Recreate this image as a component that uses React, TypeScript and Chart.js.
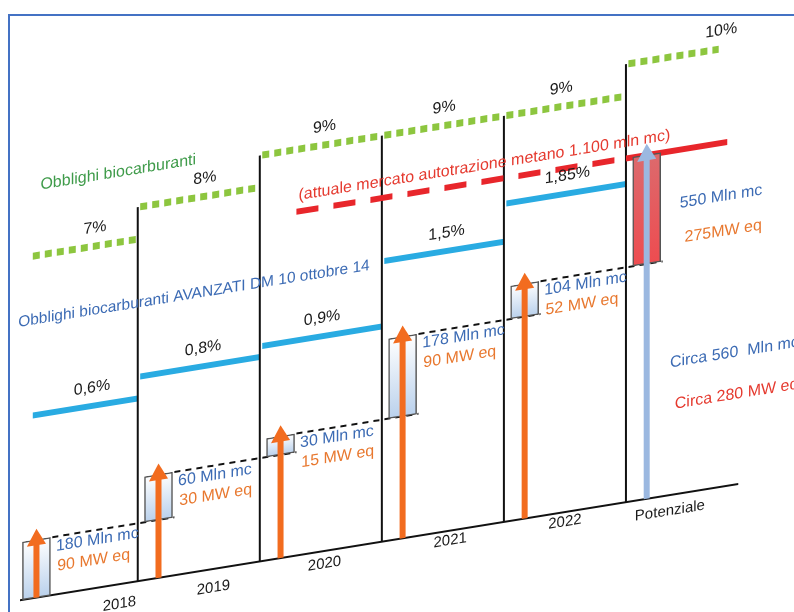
import React, { useEffect, useRef } from "react";
import { Chart, registerables } from "chart.js";

Chart.register(...registerables);

// Columns along the sloped baseline
const PERIODS = ["2018", "2019", "2020", "2021", "2022", "Potenziale"];

// Biofuel obligation (%), one step per column
const BIOFUEL_OBLIGATION = [7, 8, 9, 9, 9, 10];
// Advanced biofuel obligation, DM 10 ottobre 2014 (%)
const ADVANCED_OBLIGATION = [0.6, 0.8, 0.9, 1.5, 1.85];
// Yearly biomethane increments (Mln mc) and equivalent capacity (MW)
const INCREMENT_MLN_MC = [180, 60, 30, 178, 104];
const INCREMENT_MW = [90, 30, 15, 90, 52];
// Remaining potential
const POTENTIAL_MLN_MC = 550;
const POTENTIAL_MW = 275;
const POTENTIAL_TOTAL_MLN_MC = 560;
const POTENTIAL_TOTAL_MW = 280;
// Current methane-for-transport market (Mln mc)
const MARKET_MLN_MC = 1100;

// Label placement along the column axis (column units) and below the baseline (px)
const GREEN_LABEL_X = [0.65, 1.55, 2.53, 3.51, 4.47, 5.78];
const BLUE_LABEL_X = [0.625, 1.535, 2.51, 3.53, 4.52];
const PERIOD_LABEL_X = [0.85, 1.62, 2.53, 3.56, 4.5, 5.36];
const PERIOD_LABEL_DROP = [20, 19, 13, 10, 10, 16];

// Scale ranges (hidden axes)
const X_MIN = 0;
const X_MAX = 6;
const G_MIN = -3.704;
const G_MAX = 11.848;
const B_MIN = -1.086;
const B_MAX = 3.501;
const C_MIN = 124.7;
const C_MAX = 2906;

// Vertical shear giving the rising perspective
const SKEW = -0.162;
const BOX_OFFSET = 0.17;

const INK = "#1a1a1a";
const GREEN_DOTS = "#8dc63f";
const GREEN_TEXT = "#3f9b4a";
const CYAN = "#29abe2";
const BLUE_TEXT = "#3c6bb4";
const ORANGE = "#f26c1f";
const ORANGE_TEXT = "#e8782f";
const RED = "#e8262b";
const RED_TEXT = "#e53a2f";
const ARROW_BLUE = "#9bb8e0";
const FONT = '"Liberation Sans", Arial, Helvetica, sans-serif';

const cumulative: number[] = [];
INCREMENT_MLN_MC.reduce((acc, v) => {
  const next = acc + v;
  cumulative.push(next);
  return next;
}, 0);
const potentialTop = cumulative[cumulative.length - 1] + POTENTIAL_MLN_MC;

const fmtDecimal = (v: number) => String(v).replace(".", ",");
const fmtThousands = (v: number) => String(v).replace(/\B(?=(\d{3})+(?!\d))/g, ".");

type Pt = { x: number; y: number | null };

// One horizontal step per column, broken between columns
function steps(values: number[], lastEnd: number): Pt[] {
  const pts: Pt[] = [];
  values.forEach((v, i) => {
    const start = i === 0 ? 0.14 : i + 0.02;
    const end = i === values.length - 1 && lastEnd > 0 ? lastEnd : i + 1;
    pts.push({ x: start, y: v }, { x: end, y: v }, { x: end, y: null });
  });
  return pts;
}

function lineSet(extra: any) {
  return {
    type: "line",
    xAxisID: "x",
    pointRadius: 0,
    tension: 0,
    spanGaps: false,
    clip: false,
    fill: false,
    borderCapStyle: "butt",
    ...extra,
  };
}

// Arrows from the baseline to each cumulative level
const orangeArrows: Pt[] = [];
const orangeHeads: number[] = [];
cumulative.forEach((v, i) => {
  const cx = i + BOX_OFFSET;
  orangeArrows.push({ x: cx, y: C_MIN }, { x: cx, y: v }, { x: cx, y: null });
  orangeHeads.push(0, 11, 0);
});
const potX = PERIODS.length - 1 + BOX_OFFSET;

// Dashed cumulative levels, each running to the next box
const levelDashes: Pt[] = [];
cumulative.forEach((v, i) => {
  levelDashes.push({ x: i + 0.3, y: v }, { x: i + 1.3, y: v }, { x: i + 1.3, y: null });
});

// Column separators, rising to the obligation step of their column
const separators: Pt[] = [];
BIOFUEL_OBLIGATION.forEach((v, i) => {
  if (i === 0) return;
  separators.push({ x: i, y: G_MIN }, { x: i, y: v }, { x: i, y: null });
});

const boxes = [
  ...cumulative.map((v, i) => ({ x: i + BOX_OFFSET, y: [i === 0 ? C_MIN : cumulative[i - 1], v] })),
  { x: potX, y: [cumulative[cumulative.length - 1], potentialTop] },
];

const skewPlugin = {
  id: "skew",
  beforeDraw(chart: any) {
    const c = chart.ctx;
    c.save();
    c.transform(1, SKEW, 0, 1, 0, -SKEW * chart.chartArea.left);
  },
  afterDraw(chart: any) {
    chart.ctx.restore();
  },
};

const labelsPlugin = {
  id: "labels",
  afterDatasetsDraw(chart: any) {
    const { ctx, chartArea, scales } = chart;
    const X = (v: number) => scales.x.getPixelForValue(v);
    const H = (h: number) => chartArea.bottom - h;
    const put = (s: string, x: number, y: number, color: string, size: number, align = "center") => {
      ctx.save();
      ctx.font = `${size}px ${FONT}`;
      ctx.fillStyle = color;
      ctx.textAlign = align;
      ctx.textBaseline = "middle";
      ctx.fillText(s, x, y);
      ctx.restore();
    };

    BIOFUEL_OBLIGATION.forEach((v, i) =>
      put(`${v}%`, X(GREEN_LABEL_X[i]), scales.yG.getPixelForValue(v) - 18, INK, 16)
    );
    put("Obblighi biocarburanti", X(0.84), H(412), GREEN_TEXT, 16);

    ADVANCED_OBLIGATION.forEach((v, i) =>
      put(`${fmtDecimal(v)}%`, X(BLUE_LABEL_X[i]), scales.yB.getPixelForValue(v) - 18, INK, 16)
    );
    put("Obblighi biocarburanti AVANZATI DM 10 ottobre 14", X(1.46), H(278), BLUE_TEXT, 15.5);

    put(
      `(attuale mercato autotrazione metano ${fmtThousands(MARKET_MLN_MC)} mln mc)`,
      X(3.84),
      scales.yC.getPixelForValue(MARKET_MLN_MC) - 16,
      RED_TEXT,
      16
    );

    cumulative.forEach((v, i) => {
      const top = scales.yC.getPixelForValue(v);
      put(`${INCREMENT_MLN_MC[i]} Mln mc`, X(i + 0.33), top + 10, BLUE_TEXT, 16, "left");
      put(`${INCREMENT_MW[i]} MW eq`, X(i + 0.34), top + 30, ORANGE_TEXT, 16, "left");
    });

    const potTop = scales.yC.getPixelForValue(potentialTop);
    put(`${POTENTIAL_MLN_MC} Mln mc`, X(5.44), potTop + 54, BLUE_TEXT, 16, "left");
    put(`${POTENTIAL_MW}MW eq`, X(5.48), potTop + 89, ORANGE_TEXT, 16, "left");
    put(`Circa ${POTENTIAL_TOTAL_MLN_MC}  Mln mc`, X(5.36), H(132), BLUE_TEXT, 16, "left");
    put(`Circa ${POTENTIAL_TOTAL_MW} MW eq`, X(5.4), H(90), RED_TEXT, 16, "left");

    PERIODS.forEach((p, i) => put(p, X(PERIOD_LABEL_X[i]), H(-PERIOD_LABEL_DROP[i]), INK, 15));
  },
};

function boxFill(ctx: any) {
  const chart = ctx.chart;
  const sc = chart.scales && chart.scales.yC;
  const isPotential = ctx.dataIndex === boxes.length - 1;
  const fallback = isPotential ? "#e65357" : "#dde8f5";
  if (!sc || !ctx.raw || !Array.isArray(ctx.raw.y)) return fallback;
  const top = sc.getPixelForValue(ctx.raw.y[1]);
  const bot = sc.getPixelForValue(ctx.raw.y[0]);
  if (!isFinite(top) || !isFinite(bot) || top === bot) return fallback;
  const g = chart.ctx.createLinearGradient(0, top, 0, bot);
  if (isPotential) {
    g.addColorStop(0, "#dc6a6d");
    g.addColorStop(1, "#ee4c50");
  } else {
    g.addColorStop(0, "#ffffff");
    g.addColorStop(1, "#bad1ec");
  }
  return g;
}

export default function App() {
  const ref = useRef<HTMLCanvasElement>(null);

  useEffect(() => {
    if (!ref.current) return;
    const chart = new Chart(ref.current, {
      type: "line",
      data: {
        datasets: [
          lineSet({
            label: "Potenziale",
            yAxisID: "yC",
            data: [{ x: potX, y: C_MIN }, { x: potX, y: potentialTop }],
            borderColor: ARROW_BLUE,
            borderWidth: 6,
            pointStyle: "triangle",
            pointRadius: [0, 11],
            pointBackgroundColor: ARROW_BLUE,
            pointBorderWidth: 0,
          }),
          lineSet({
            label: "Incrementi",
            yAxisID: "yC",
            data: orangeArrows,
            borderColor: ORANGE,
            borderWidth: 6,
            pointStyle: "triangle",
            pointRadius: orangeHeads,
            pointBackgroundColor: ORANGE,
            pointBorderWidth: 0,
          }),
          {
            type: "bar",
            label: "Volumi",
            xAxisID: "x",
            yAxisID: "yC",
            data: boxes,
            barThickness: 28,
            grouped: false,
            borderSkipped: false,
            borderColor: "#555555",
            borderWidth: 1.5,
            backgroundColor: boxFill,
            clip: false,
          },
          lineSet({
            label: "Cumulato",
            yAxisID: "yC",
            data: levelDashes,
            borderColor: "#111111",
            borderWidth: 2,
            borderDash: [6, 5],
          }),
          lineSet({
            label: "Mercato",
            yAxisID: "yC",
            data: [{ x: 5, y: MARKET_MLN_MC }, { x: 5.83, y: MARKET_MLN_MC }],
            borderColor: RED,
            borderWidth: 6,
          }),
          lineSet({
            label: "Mercato attuale",
            yAxisID: "yC",
            data: [{ x: 2.3, y: MARKET_MLN_MC }, { x: 5, y: MARKET_MLN_MC }],
            borderColor: RED,
            borderWidth: 6,
            borderDash: [22, 15],
          }),
          lineSet({
            label: "Colonne",
            yAxisID: "yG",
            data: separators,
            borderColor: "#111111",
            borderWidth: 2,
          }),
          lineSet({
            label: "Base",
            yAxisID: "yG",
            data: [{ x: 0.035, y: G_MIN }, { x: 5.92, y: G_MIN }],
            borderColor: "#111111",
            borderWidth: 2,
          }),
          lineSet({
            label: "Obblighi biocarburanti AVANZATI",
            yAxisID: "yB",
            data: steps(ADVANCED_OBLIGATION, 0),
            borderColor: CYAN,
            borderWidth: 6,
          }),
          lineSet({
            label: "Obblighi biocarburanti",
            yAxisID: "yG",
            data: steps(BIOFUEL_OBLIGATION, 5.76),
            borderColor: GREEN_DOTS,
            borderWidth: 7,
            borderDash: [7, 5],
          }),
        ],
      },
      options: {
        animation: false,
        responsive: false,
        maintainAspectRatio: false,
        devicePixelRatio: 1,
        events: [],
        layout: { padding: { left: 15.7, right: 46, top: 104, bottom: 8 } },
        plugins: {
          legend: { display: false },
          tooltip: { enabled: false },
          title: { display: false },
        },
        scales: {
          x: { type: "linear", min: X_MIN, max: X_MAX, offset: false, display: false },
          yG: { type: "linear", position: "left", min: G_MIN, max: G_MAX, display: false },
          yB: { type: "linear", position: "left", min: B_MIN, max: B_MAX, display: false },
          yC: { type: "logarithmic", position: "left", min: C_MIN, max: C_MAX, display: false },
        },
      },
      plugins: [skewPlugin, labelsPlugin],
    } as any);
    return () => chart.destroy();
  }, []);

  return (
    <div
      style={{
        position: "absolute",
        left: 0,
        top: 0,
        width: 794,
        height: 612,
        overflow: "hidden",
        background: "#ffffff",
      }}
    >
      <canvas
        ref={ref}
        width={794}
        height={612}
        style={{ position: "absolute", left: 0, top: 0, width: 794, height: 612 }}
      />
      <div
        style={{
          position: "absolute",
          left: 8,
          top: 14,
          width: 900,
          height: 800,
          borderTop: "2px solid #4472c4",
          borderLeft: "2px solid #4472c4",
          pointerEvents: "none",
        }}
      />
    </div>
  );
}
